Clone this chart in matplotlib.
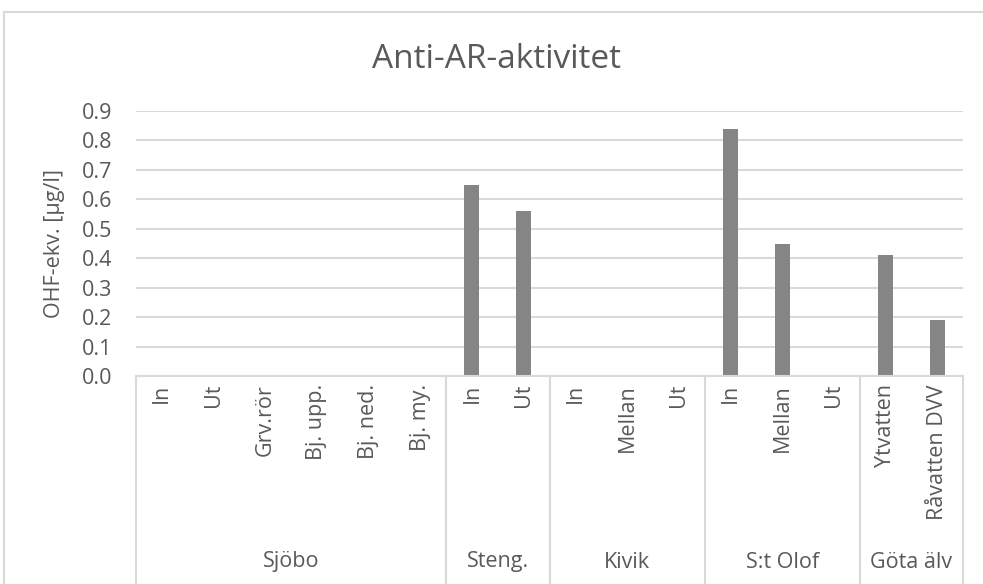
import matplotlib
matplotlib.use("Agg")
import matplotlib.pyplot as plt
from matplotlib.transforms import blended_transform_factory
from matplotlib.lines import Line2D

# Data
groups = ["Sjöbo", "Steng.", "Kivik", "S:t Olof", "Göta älv"]
group_sizes = [6, 2, 3, 3, 2]
categories = ["In", "Ut", "Grv.rör", "Bj. upp.", "Bj. ned.", "Bj. my.",
              "In", "Ut",
              "In", "Mellan", "Ut",
              "In", "Mellan", "Ut",
              "Ytvatten", "Råvatten DVV"]
values = [0, 0, 0, 0, 0, 0,
          0.65, 0.56,
          0, 0, 0,
          0.84, 0.45, 0,
          0.41, 0.19]
yticks = [0.0, 0.1, 0.2, 0.3, 0.4, 0.5, 0.6, 0.7, 0.8, 0.9]

W, H = 983, 584
TEXT = "#595959"
GRID = "#d9d9d9"
BAR = "#858585"
FONT = "Open Sans"
FS = 15.5

plt.rcParams["font.family"] = [FONT, "DejaVu Sans"]

fig = plt.figure(figsize=(W / 100, H / 100), dpi=100)

def fy(py):
    return (H - py) / H

def fx(px):
    return px / W

# chart area border
fig.add_artist(Line2D([fx(4), fx(4)], [fy(12), fy(H + 5)], color=GRID, lw=1.5))
fig.add_artist(Line2D([fx(4), fx(W + 5)], [fy(12), fy(12)], color=GRID, lw=1.5))

left, right, top, bottom = 136, 963, 111, 376
ax = fig.add_axes([fx(left), fy(bottom), (right - left) / W, (bottom - top) / H])

n = len(categories)
x = list(range(n))
ax.bar(x, values, width=0.29, color=BAR, zorder=3)
ax.set_xlim(-0.5, n - 0.5)
ax.set_ylim(0, 0.9)
ax.set_yticks(yticks)
ax.set_yticklabels([f"{v:.1f}" for v in yticks])
ax.tick_params(axis="y", length=0, pad=17, labelsize=FS, labelcolor=TEXT)
ax.tick_params(axis="x", length=0, labelbottom=False)
ax.grid(axis="y", color=GRID, lw=1.5, zorder=0)
for s in ["top", "right", "left"]:
    ax.spines[s].set_visible(False)
ax.spines["bottom"].set_color(GRID)
ax.spines["bottom"].set_linewidth(1.5)
ax.spines["bottom"].set_zorder(4)

ax.set_ylabel("OHF-ekv. [µg/l]", fontsize=FS, color=TEXT, labelpad=12)

fig.text(fx(497), fy(60), "Anti-AR-aktivitet", fontsize=24, color=TEXT,
         ha="center", va="center")

# multi-level category axis
tr = blended_transform_factory(ax.transData, fig.transFigure)
for i, lab in enumerate(categories):
    ax.text(i, fy(384), lab, transform=tr, rotation=90, ha="center", va="top",
            fontsize=FS, color=TEXT, clip_on=False)

bounds = [-0.5]
for size in group_sizes:
    bounds.append(bounds[-1] + size)
for b in bounds:
    fig.add_artist(Line2D([b, b], [fy(bottom), fy(H + 5)], color=GRID, lw=1.5,
                          transform=tr))
for g, a, b in zip(groups, bounds[:-1], bounds[1:]):
    ax.text((a + b) / 2, fy(562), g, transform=tr, ha="center", va="center",
            fontsize=FS, color=TEXT, clip_on=False)

fig.savefig("out.png", dpi=100)
